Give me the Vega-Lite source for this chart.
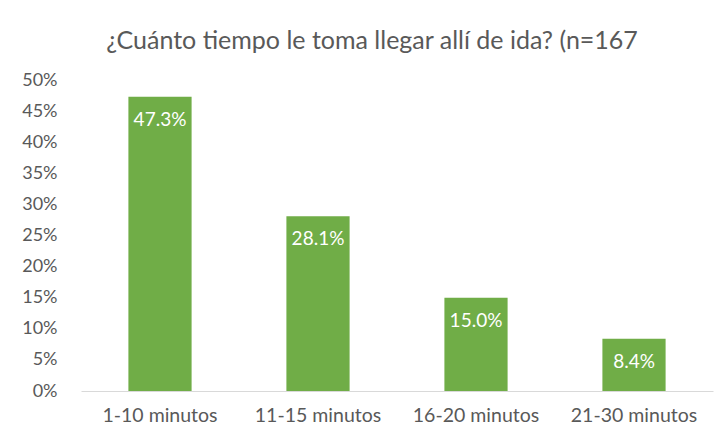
{
  "$schema": "https://vega.github.io/schema/vega-lite/v6.json",
  "width": 632,
  "height": 311,
  "autosize": "none",
  "padding": {"left": 81, "top": 80, "right": 12, "bottom": 49},
  "background": "white",
  "title": {
    "text": "¿Cuánto tiempo le toma llegar allí de ida? (n=167",
    "font": "Lato",
    "fontSize": 25,
    "fontWeight": "normal",
    "color": "#595959",
    "anchor": "middle",
    "dx": -25,
    "offset": 17
  },
  "data": {
    "values": [
      {"cat": "1-10 minutos", "v": 0.473},
      {"cat": "11-15 minutos", "v": 0.281},
      {"cat": "16-20 minutos", "v": 0.150},
      {"cat": "21-30 minutos", "v": 0.084}
    ]
  },
  "config": {"view": {"stroke": null}},
  "encoding": {
    "x": {
      "field": "cat", "type": "nominal", "sort": null, "title": null,
      "scale": {"paddingInner": 0.6, "paddingOuter": 0.3},
      "axis": {"labelAngle": 0, "ticks": false, "domainColor": "#d9d9d9", "domainWidth": 1, "labelPadding": 15, "labelFont": "Lato", "labelFontSize": 19.5, "labelColor": "#595959"}
    },
    "y": {
      "field": "v", "type": "quantitative", "title": null,
      "scale": {"domain": [0, 0.5], "nice": false},
      "axis": {"format": ".0%", "values": [0, 0.05, 0.1, 0.15, 0.2, 0.25, 0.3, 0.35, 0.4, 0.45, 0.5], "grid": false, "ticks": false, "domain": false, "labelPadding": 24, "labelFont": "Lato", "labelFontSize": 18, "labelColor": "#595959"}
    }
  },
  "layer": [
    {"mark": {"type": "bar", "color": "#70ad47"}},
    {
      "mark": {"type": "text", "color": "white", "baseline": "middle", "dy": 23, "font": "Lato", "fontSize": 19},
      "encoding": {"text": {"field": "v", "type": "quantitative", "format": ".1%"}}
    }
  ]
}
